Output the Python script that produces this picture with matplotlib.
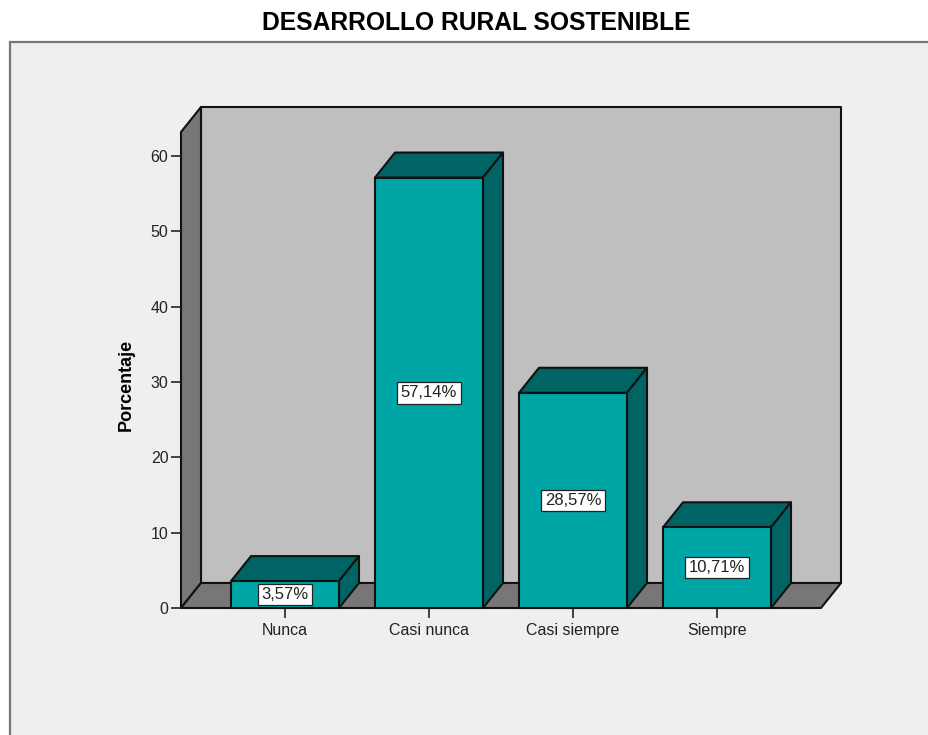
import matplotlib
matplotlib.use("Agg")
import matplotlib.pyplot as plt
from matplotlib.patches import Polygon, Rectangle

plt.rcParams['font.family'] = ['Liberation Sans', 'DejaVu Sans']

categories = ["Nunca", "Casi nunca", "Casi siempre", "Siempre"]
values = [3.57, 57.14, 28.57, 10.71]
labels = ["3,57%", "57,14%", "28,57%", "10,71%"]
yticks = [0, 10, 20, 30, 40, 50, 60]

W, H = 929, 735
fig = plt.figure(figsize=(W / 100, H / 100), dpi=100, facecolor='white')

# panel
fig.add_artist(Rectangle((10 / W, -0.01), 1, 1 - 42 / H + 0.01, transform=fig.transFigure,
                         facecolor='#EFEFEF', edgecolor='#777777', lw=1.6, zorder=-5))
fig.text(476 / W, 1 - 23 / H, "DESARROLLO RURAL SOSTENIBLE", ha='center', va='center',
         fontsize=17.7, fontweight='bold', color='black')

# plot axes: front plane
L, R, B, T = 181, 821, 608, 132
ax = fig.add_axes([L / W, 1 - B / H, (R - L) / W, (B - T) / H])
ax.patch.set_alpha(0)
x0 = -104 / 144
x1 = x0 + (R - L) / 144
y1 = (B - T) / (452 / 60)
ax.set_xlim(x0, x1)
ax.set_ylim(0, y1)
for s in ax.spines.values():
    s.set_visible(False)

dx = 20 / 144
dy = 25 / (452 / 60)
edge = dict(edgecolor='#111111', lw=1.5, joinstyle='round', clip_on=False)

# walls
ax.add_patch(Polygon([(x0 + dx, dy), (x1 + dx, dy), (x1 + dx, y1 + dy), (x0 + dx, y1 + dy)],
                     facecolor='#BFBFBF', zorder=1, **edge))
ax.add_patch(Polygon([(x0, 0), (x0 + dx, dy), (x0 + dx, y1 + dy), (x0, y1)],
                     facecolor='#777777', zorder=1.1, **edge))
ax.add_patch(Polygon([(x0, 0), (x1, 0), (x1 + dx, dy), (x0 + dx, dy)],
                     facecolor='#777777', zorder=1.1, **edge))

# bars
w = 108 / 144
for i, v in enumerate(values):
    l, r = i - w / 2, i + w / 2
    ax.bar(i, v, width=w, color='#00A6A6', edgecolor='#111111', lw=1.5, zorder=3, clip_on=False)
    ax.add_patch(Polygon([(l, v), (r, v), (r + dx, v + dy), (l + dx, v + dy)],
                         facecolor='#006464', zorder=2.9, **edge))
    ax.add_patch(Polygon([(r, 0), (r + dx, dy), (r + dx, v + dy), (r, v)],
                         facecolor='#006464', zorder=2.9, **edge))
    ax.text(i, v / 2, labels[i], ha='center', va='center', fontsize=12, color='#222222', zorder=5,
            bbox=dict(boxstyle='square,pad=0.2', facecolor='white', edgecolor='#222222', lw=0.9))

ax.set_yticks(yticks)
ax.set_xticks(range(len(categories)))
ax.set_xticklabels(categories)
ax.tick_params(axis='both', length=7.5, width=1.2, color='#222222', labelcolor='#222222',
               labelsize=11.5, pad=1.5)
ax.tick_params(axis='x', pad=3)
ax.set_ylabel("Porcentaje", fontsize=13, fontweight='bold', color='black', labelpad=0, va='center')
ax.yaxis.set_label_coords((126 - L) / (R - L), (B - 385) / (B - T))

fig.savefig("out.png", dpi=100, facecolor=fig.get_facecolor())
